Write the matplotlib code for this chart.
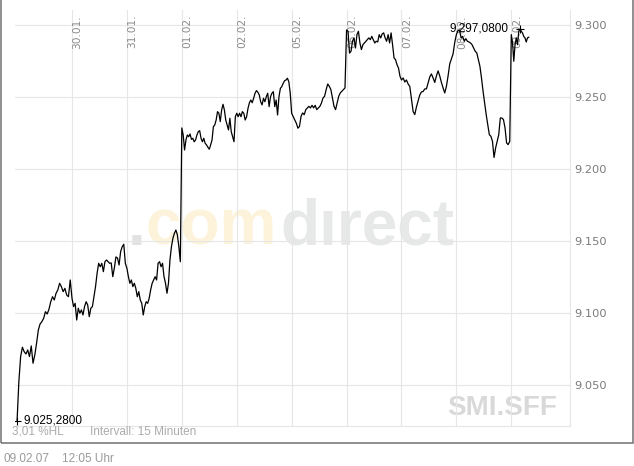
import matplotlib

matplotlib.use("Agg")
import matplotlib.pyplot as plt
import numpy as np
from matplotlib import font_manager
from matplotlib.patches import Rectangle
from matplotlib.transforms import blended_transform_factory


# SMI future, 15 minute bars, one list per trading day
DAY_LABELS = ["29.01.", "30.01.", "31.01.", "01.02.", "02.02.", "05.02.", "06.02.", "07.02.", "08.02.", "09.02."]

D_29_01 = [9025.28, 9052.3, 9069.7, 9076.2, 9073.1, 9071.5, 9074.3, 9069.7, 9077.1, 9065.1, 9070.8,
           9079.0, 9088.2, 9092.4, 9094.0, 9096.3, 9100.9, 9099.3, 9102.6, 9107.8, 9111.3, 9109.0,
           9113.7, 9116.0, 9120.6, 9118.3, 9114.8, 9117.1, 9112.5, 9111.3, 9122.9]
D_30_01 = [9110.2, 9104.4, 9106.7, 9095.1, 9103.3, 9099.8, 9102.1, 9098.6, 9104.4, 9107.8, 9105.6,
           9097.4, 9103.3, 9104.4, 9111.3, 9118.3, 9127.6, 9134.5, 9132.1, 9134.5, 9128.7, 9135.6,
           9136.8, 9135.6, 9134.5, 9134.7, 9125.2, 9131.3, 9138.9, 9138.2, 9133.3, 9142.6, 9146.0,
           9147.7, 9134.5]
D_31_01 = [9131.0, 9125.2, 9120.6, 9122.9, 9118.3, 9120.6, 9117.1, 9111.3, 9114.8, 9109.0, 9106.7,
           9098.6, 9104.4, 9107.8, 9106.7, 9110.2, 9116.0, 9120.6, 9122.9, 9125.2, 9122.9, 9134.5,
           9135.6, 9132.1, 9134.5, 9125.2, 9120.6, 9113.7, 9120.6, 9136.8, 9146.0, 9151.9, 9155.3,
           9157.6, 9154.2, 9146.0, 9135.6]
D_01_02 = [9228.5, 9223.6, 9213.2, 9220.1, 9223.6, 9222.4, 9224.3, 9220.6, 9221.3, 9218.9, 9220.1,
           9223.6, 9225.9, 9226.6, 9221.3, 9218.9, 9221.3, 9217.8, 9216.7, 9215.1, 9213.7, 9216.7,
           9220.1, 9229.4, 9230.6, 9234.0, 9239.8, 9238.7, 9232.9, 9241.0, 9244.9, 9241.0, 9234.0,
           9230.6, 9227.1, 9235.2, 9225.9, 9222.4, 9218.9, 9236.3]
D_02_02 = [9238.7, 9236.3, 9238.7, 9236.3, 9239.8, 9238.7, 9234.0, 9236.3, 9242.1, 9246.0, 9247.9,
           9246.0, 9249.1, 9252.6, 9254.4, 9253.3, 9251.4, 9246.7, 9244.5, 9249.1, 9246.7, 9250.2,
           9252.6, 9243.3, 9250.2, 9252.6, 9253.7, 9243.3, 9247.9, 9237.5, 9250.2, 9256.0, 9257.2,
           9259.5, 9261.3, 9261.8, 9263.0, 9260.6, 9252.6]
D_05_02 = [9238.7, 9236.3, 9234.0, 9231.7, 9228.3, 9229.6, 9236.6, 9238.9, 9237.7, 9241.2, 9242.4,
           9243.5, 9242.4, 9244.2, 9242.4, 9244.2, 9241.2, 9242.4, 9243.5, 9245.8, 9249.3, 9250.5,
           9255.1, 9259.0, 9257.4, 9255.1, 9249.3, 9243.5, 9241.2, 9245.8, 9250.5, 9252.8, 9254.0,
           9255.1, 9256.3]
D_06_02 = [9296.6, 9295.6, 9280.5, 9281.7, 9288.7, 9291.0, 9284.0, 9293.3, 9295.6, 9287.5, 9282.9,
           9286.3, 9287.5, 9288.7, 9289.8, 9291.0, 9289.8, 9292.1, 9289.8, 9287.5, 9288.7, 9288.2,
           9293.3, 9291.0, 9293.8, 9294.5, 9291.0, 9288.7, 9293.3, 9287.5, 9294.5, 9286.3, 9277.1,
           9275.9, 9272.4, 9270.1, 9264.4]
D_07_02 = [9261.8, 9263.2, 9260.4, 9261.8, 9259.0, 9257.3, 9248.6, 9239.9, 9237.8, 9243.1, 9247.2,
           9251.4, 9253.5, 9253.8, 9255.6, 9255.6, 9259.7, 9263.9, 9266.0, 9263.2, 9260.1, 9264.6,
           9268.1, 9264.6, 9260.1, 9256.3, 9252.8, 9257.3, 9264.6, 9272.9, 9276.4, 9279.9, 9287.8]
D_08_02 = [9293.3, 9296.0, 9296.5, 9291.0, 9292.1, 9288.7, 9290.5, 9288.7, 9288.2, 9287.5, 9286.3,
           9284.0, 9281.7, 9280.6, 9275.9, 9271.3, 9263.2, 9254.0, 9245.8, 9237.7, 9230.8, 9223.8,
           9222.7, 9219.2, 9208.0, 9214.6, 9219.2, 9223.8, 9235.4, 9235.4, 9234.3, 9228.5, 9218.1,
           9216.9, 9219.2]
D_09_02 = [9293.3, 9287.5, 9274.8, 9286.3, 9291.0, 9286.3, 9295.6, 9297.08, 9295.6, 9294.5, 9292.1,
           9291.0, 9288.2, 9291.0, 9291.5]

DAY_VALUES = [D_29_01, D_30_01, D_31_01, D_01_02, D_02_02, D_05_02, D_06_02, D_07_02, D_08_02, D_09_02]
LAST_DAY_FRACTION = 0.34  # 09.02. only runs until 12:05

Y_TICKS = [9050, 9100, 9150, 9200, 9250, 9300]

SYMBOL = "SMI.SFF"
INTERVAL_TEXT = "Intervall: 15 Minuten"
STAMP_DATE = "09.02.07"
STAMP_TIME = "12:05 Uhr"

W, H = 634, 466
GRID_COLOR = "#e6e6e6"
TICK_COLOR = "#7a7a7a"
SOFT_COLOR = "#ababab"


def de_number(value: float, decimals: int) -> str:
    return f"{value:,.{decimals}f}".replace(",", "#").replace(".", ",").replace("#", ".")


def fx(px: float) -> float:
    return px / W


def fy(py: float) -> float:
    return 1 - py / H


names = {f.name for f in font_manager.fontManager.ttflist}
WM_FONT = "Liberation Sans Narrow" if "Liberation Sans Narrow" in names else "Liberation Sans"
WM_SIZE = 55 if WM_FONT == "Liberation Sans Narrow" else 46

fig = plt.figure(figsize=(W / 100, H / 100), dpi=100)
fig.patch.set_facecolor("white")

# outer frame, its top edge sits just above the image
fig.add_artist(Rectangle((fx(0.6), fy(443)), fx(633) - fx(0.6), fy(-3) - fy(443),
                         transform=fig.transFigure, fill=False, edgecolor="#707070", linewidth=1.1,
                         clip_on=False))

ax = fig.add_axes([fx(15), fy(426), fx(570) - fx(15), fy(10) - fy(426)])

xs, ys = [], []
for day, vals in enumerate(DAY_VALUES):
    span = LAST_DAY_FRACTION if day == len(DAY_VALUES) - 1 else 1.0
    xs.extend(day + span * i / len(vals) for i in range(len(vals)))
    ys.extend(vals)
xs = np.array(xs)
ys = np.array(ys)

ax.set_xlim(-0.038, 10.069)
ax.set_ylim(9021.5, 9310.4)

# watermarks
ax.text(fx(137), fy(245), ".", transform=fig.transFigure, ha="center", va="baseline",
        fontsize=WM_SIZE, fontweight="bold", family=WM_FONT, color="#e2e2e2", zorder=0.1)
ax.text(fx(146), fy(245), "com", transform=fig.transFigure, ha="left", va="baseline",
        fontsize=WM_SIZE, fontweight="bold", family=WM_FONT, color="#fdf3da", zorder=0.1)
ax.text(fx(280), fy(245), "d\u0131rect", transform=fig.transFigure, ha="left", va="baseline",
        fontsize=WM_SIZE, fontweight="bold", family=WM_FONT, color="#e7e8e8", zorder=0.1)
ax.text(fx(557), fy(415), SYMBOL, transform=fig.transFigure, ha="right", va="baseline",
        fontsize=20, fontweight="bold", family="Liberation Sans", color="#d9d9d9", zorder=0.1)

ax.set_axisbelow(True)
ax.grid(True, color=GRID_COLOR, linewidth=0.8)
for side in ("top", "left"):
    ax.spines[side].set_visible(False)
for side in ("right", "bottom"):
    ax.spines[side].set_color(GRID_COLOR)
    ax.spines[side].set_linewidth(0.8)

ax.set_xticks(np.arange(1, len(DAY_LABELS)))
ax.tick_params(axis="x", length=0, labelbottom=False)
ax.yaxis.tick_right()
ax.set_yticks(Y_TICKS)
ax.set_yticklabels([de_number(v, 0) for v in Y_TICKS])
ax.tick_params(axis="y", length=0, pad=3, labelsize=8.2, labelcolor=TICK_COLOR)
for lab in ax.get_yticklabels():
    lab.set_family("DejaVu Sans")

top_trans = blended_transform_factory(ax.transData, ax.transAxes)
for day, label in enumerate(DAY_LABELS[1:], start=1):
    ax.text(day + 0.01, 0.988, label, transform=top_trans, rotation=90, ha="left", va="top",
            fontsize=7.6, family="DejaVu Sans", color="#8a8a8a", zorder=1)

ax.plot(xs, ys, color="black", linewidth=0.9, zorder=3)

lo = int(np.argmin(ys))
hi = int(np.argmax(ys))
ax.plot([xs[lo], xs[hi]], [ys[lo], ys[hi]], linestyle="none", marker="+", markersize=6,
        markeredgewidth=0.8, color="black", zorder=4)
ax.annotate(de_number(ys[lo], 4), (xs[lo], ys[lo]), xytext=(4.5, 0), textcoords="offset points",
            ha="left", va="center", fontsize=8.5, family="Liberation Sans", color="black", zorder=4)
ax.annotate(de_number(ys[hi], 4), (xs[hi], ys[hi]), xytext=(-8, 0.5), textcoords="offset points",
            ha="right", va="center", fontsize=8.5, family="Liberation Sans", color="black", zorder=4)

span_pct = (ys[hi] - ys[lo]) / ys[lo] * 100
fig.text(fx(12.5), fy(435), f"{de_number(span_pct, 2)} %HL", ha="left", va="baseline",
         fontsize=8.5, family="Liberation Sans", color=SOFT_COLOR)
fig.text(fx(90), fy(435), INTERVAL_TEXT, ha="left", va="baseline",
         fontsize=8.5, family="Liberation Sans", color=SOFT_COLOR)
fig.text(fx(3), fy(462.5), STAMP_DATE, ha="left", va="baseline",
         fontsize=8.5, family="Liberation Sans", color="#9a9a9a")
fig.text(fx(62), fy(462.5), STAMP_TIME, ha="left", va="baseline",
         fontsize=8.5, family="Liberation Sans", color="#9a9a9a")

fig.savefig("out.png", dpi=100)
